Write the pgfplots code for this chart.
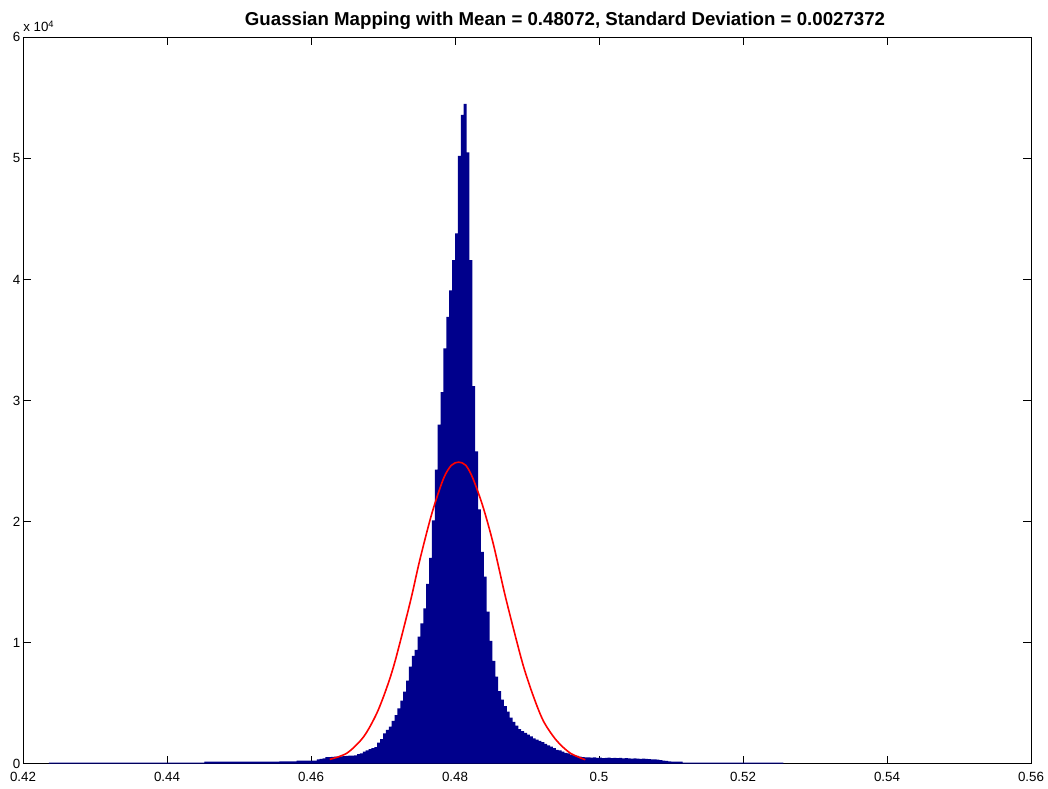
\documentclass[border=0pt]{standalone}
\usepackage{pgfplots}
\pgfplotsset{compat=1.18}
\usepackage{fontspec}
\setmainfont{Liberation Sans}
\definecolor{barblue}{RGB}{0,0,140}
\begin{document}
\begin{tikzpicture}
\begin{axis}[
  scale only axis,
  width=756pt, height=544.8pt,
  xmin=0.42, xmax=0.56, ymin=0, ymax=60000,
  xtick={0.42,0.44,0.46,0.48,0.5,0.52,0.54,0.56},
  xticklabels={0.42,0.44,0.46,0.48,0.5,0.52,0.54,0.56},
  ytick={0,10000,20000,30000,40000,50000,60000},
  yticklabels={0,1,2,3,4,5,6},
  scaled ticks=false,
  tick align=inside,
  major tick length=6pt,
  tick style={black, line width=0.6pt},
  axis line style={black, line width=0.6pt},
  tick label style={font=\fontsize{10}{11}\selectfont},
  xticklabel style={yshift=-2.6pt},
  yticklabel style={xshift=1.5pt},
  clip=false,
]
\addplot[const plot, fill=barblue, draw=none] coordinates {
(0.4236,100) (0.4452,170) (0.4556,200) (0.4580,250)
(0.4608,350) (0.4612,400) (0.4616,450) (0.4620,540) (0.4624,550) (0.4628,560)
(0.4632,580) (0.4636,590) (0.4640,600) (0.4644,620) (0.4648,640) (0.4652,660)
(0.4656,680) (0.4660,700) (0.4664,800) (0.4668,850) (0.4672,1000) (0.4676,1100)
(0.4680,1200) (0.4684,1280) (0.4688,1380) (0.4692,1740) (0.4696,2040) (0.4700,2510)
(0.4704,2790) (0.4708,3060) (0.4712,3530) (0.4716,4020) (0.4720,4580) (0.4724,5210)
(0.4728,5950) (0.4732,6860) (0.4736,8020) (0.4740,8900) (0.4744,9400) (0.4748,10500)
(0.4752,11600) (0.4756,12840) (0.4760,14850) (0.4764,17000) (0.4768,20100) (0.4772,24300)
(0.4776,28000) (0.4780,30700) (0.4784,34300) (0.4788,36900) (0.4792,39100) (0.4796,41600)
(0.4800,43800) (0.4804,50200) (0.4808,53600) (0.4812,54500) (0.4816,50500) (0.4820,41600)
(0.4824,31200) (0.4828,25800) (0.4832,21000) (0.4836,17500) (0.4840,15450) (0.4844,12560)
(0.4848,10150) (0.4852,8500) (0.4856,7190) (0.4860,6000) (0.4864,5300) (0.4868,4750)
(0.4872,4300) (0.4876,3800) (0.4880,3450) (0.4884,3150) (0.4888,2850) (0.4892,2700)
(0.4896,2550) (0.4900,2400) (0.4904,2250) (0.4908,2100) (0.4912,2000) (0.4916,1880)
(0.4920,1780) (0.4924,1650) (0.4928,1520) (0.4932,1420) (0.4936,1280) (0.4940,1150)
(0.4944,1100) (0.4948,1000) (0.4952,900) (0.4956,850) (0.4960,760) (0.4964,700)
(0.4968,640) (0.4972,580) (0.4976,540) (0.4980,520) (0.4984,530) (0.4988,500)
(0.4992,520) (0.4996,490) (0.5000,500) (0.5004,470) (0.5008,490) (0.5012,500)
(0.5016,470) (0.5020,480) (0.5024,460) (0.5028,480) (0.5032,450) (0.5036,470)
(0.5040,450) (0.5044,430) (0.5048,450) (0.5052,430) (0.5056,410) (0.5060,420)
(0.5064,400) (0.5068,390) (0.5072,370) (0.5076,350) (0.5080,330) (0.5084,300)
(0.5088,260) (0.5092,230) (0.5096,200) (0.5100,180) (0.5116,90) (0.5256,0)
} \closedcycle;
\addplot[red, line width=1.2pt, smooth] coordinates {
(0.4626,360) (0.4650,880) (0.4673,2220) (0.4691,4120) (0.4705,6250) (0.4717,8520)
(0.4738,13400) (0.4751,16800) (0.4768,20700) (0.4784,23550) (0.4795,24650) (0.4805,24910)
(0.4815,24650) (0.4825,23550) (0.4839,21200) (0.4853,18200) (0.4869,14050) (0.4881,11200)
(0.4895,8060) (0.4909,5550) (0.4923,3500) (0.4941,1920) (0.4960,880) (0.4981,330)
};
\node[anchor=base west, font=\fontsize{10}{11}\selectfont, inner sep=0pt] at (rel axis cs:0,1) [yshift=4pt] {x 10\textsuperscript{4}};
\node[anchor=base, font=\fontsize{14}{16}\selectfont\bfseries, inner sep=0pt] at (rel axis cs:0.5377,1) [yshift=9pt] {Guassian Mapping with Mean = 0.48072, Standard Deviation = 0.0027372};
\end{axis}
\path (current axis.south west) ++(-17.25pt,-18.2pt) coordinate (BBa);
\path (current axis.north east) ++(12.75pt,28pt) coordinate (BBb);
\pgfresetboundingbox
\path[use as bounding box] (BBa) rectangle (BBb);
\end{tikzpicture}
\end{document}
